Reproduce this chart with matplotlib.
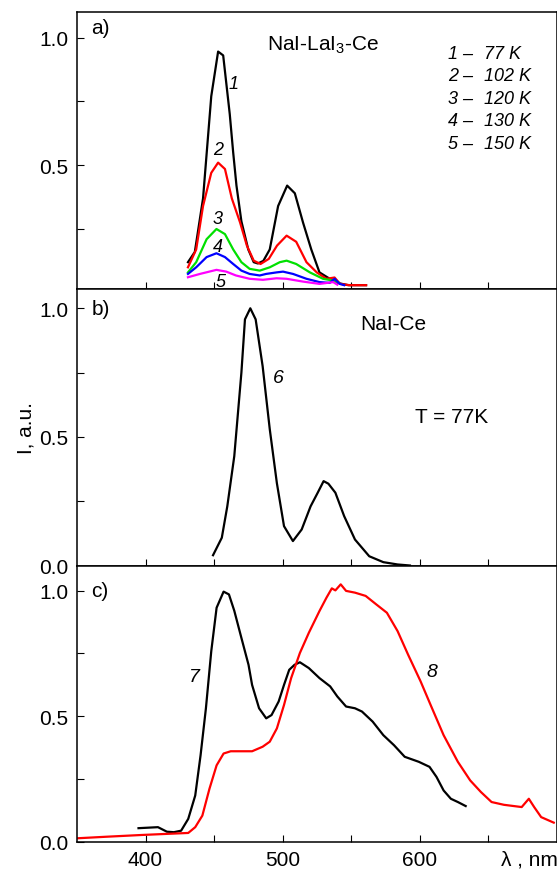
import matplotlib
matplotlib.use("Agg")
import matplotlib.pyplot as plt
import matplotlib.transforms as mtransforms

plt.rcParams.update({
    "font.family": ["Liberation Sans", "DejaVu Sans"],
    "font.size": 15,
    "mathtext.fontset": "custom",
    "mathtext.rm": "Liberation Sans",
    "axes.linewidth": 1.1,
    "xtick.direction": "in",
    "ytick.direction": "in",
    "xtick.major.size": 5,
    "ytick.major.size": 5,
})

# ---- panel a) NaI-LaI3-Ce, 77..150 K
wl_1 = [431, 436, 442, 448, 453, 456.7, 461.5, 464, 466.4, 470, 475, 479, 482,
        486, 490.7, 496.8, 503.4, 509, 515, 521, 527, 533, 539, 548, 561]
I_1 = [0.12, 0.16, 0.37, 0.77, 0.945, 0.93, 0.70, 0.55, 0.42, 0.28, 0.17, 0.12,
       0.115, 0.125, 0.17, 0.34, 0.42, 0.39, 0.275, 0.17, 0.08, 0.06, 0.04, 0.03, 0.03]

wl_2 = [431, 437, 442, 448, 453, 458, 463, 469, 474, 479, 484, 490, 496, 503,
        510, 517.5, 525, 532, 538, 542, 549, 561]
I_2 = [0.10, 0.17, 0.34, 0.47, 0.51, 0.485, 0.37, 0.276, 0.185, 0.126, 0.113,
       0.133, 0.185, 0.224, 0.20, 0.12, 0.08, 0.055, 0.06, 0.035, 0.03, 0.03]

wl_3 = [431, 437, 444.6, 451.8, 458, 464, 470, 476, 483.4, 490.7, 498, 503, 510,
        520, 529.6, 537, 541]
I_3 = [0.08, 0.12, 0.21, 0.25, 0.23, 0.17, 0.12, 0.094, 0.087, 0.10, 0.12, 0.126,
       0.113, 0.08, 0.055, 0.048, 0.04]

wl_4 = [431, 437, 444.6, 451.8, 458, 464, 470, 476, 483.4, 488, 495.6, 500.4,
        507.7, 517.5, 527, 534.5, 538, 541.8, 545]
I_4 = [0.074, 0.10, 0.14, 0.155, 0.14, 0.113, 0.087, 0.074, 0.068, 0.074, 0.08,
       0.083, 0.074, 0.055, 0.042, 0.039, 0.055, 0.035, 0.03]

wl_5 = [431, 439.7, 451.8, 459, 466, 476, 485.7, 495.6, 503, 515, 527, 537, 540]
I_5 = [0.061, 0.074, 0.09, 0.083, 0.068, 0.055, 0.051, 0.057, 0.055, 0.044,
       0.035, 0.042, 0.032]

temps_a = ["77 K", "102 K", "120 K", "130 K", "150 K"]
colors_a = ["black", "#ff0000", "#00e000", "#0000ff", "#ff00ff"]

# ---- panel b) NaI-Ce, 77 K
wl_6 = [449.3, 455.7, 459.7, 464.8, 470, 472.6, 476.5, 480.4, 485.5, 490.7, 495.9,
        501.1, 507.6, 514, 520.5, 525.7, 530, 533.5, 538.6, 545, 552.9, 563.3,
        573.6, 584, 593]
I_6 = [0.04, 0.108, 0.23, 0.425, 0.75, 0.957, 1.0, 0.957, 0.775, 0.53, 0.32,
       0.153, 0.095, 0.14, 0.23, 0.283, 0.328, 0.318, 0.283, 0.192, 0.101, 0.036,
       0.013, 0.004, 0.0]

# ---- panel c)
wl_7 = [394.9, 409.1, 415.6, 420.7, 426, 431.2, 436.3, 440.2, 444.1, 448, 451.9,
        457, 460.9, 464.8, 470, 475.2, 477.8, 482.9, 488.1, 492, 497.2, 501.1,
        504.9, 508.8, 512.7, 519.2, 527, 534.8, 540, 546.4, 552.9, 558, 565.8,
        573.6, 581.4, 589.2, 599.5, 607.3, 612.4, 617.6, 622.9, 628, 633.7]
I_7 = [0.055, 0.059, 0.041, 0.039, 0.045, 0.092, 0.185, 0.345, 0.532, 0.759,
       0.932, 0.996, 0.985, 0.92, 0.812, 0.705, 0.625, 0.532, 0.492, 0.505, 0.559,
       0.625, 0.685, 0.705, 0.715, 0.692, 0.652, 0.619, 0.579, 0.539, 0.532, 0.519,
       0.479, 0.425, 0.385, 0.339, 0.319, 0.299, 0.259, 0.205, 0.172, 0.159, 0.143]

wl_8 = [350.9, 371.6, 397.5, 431.2, 436.3, 441.5, 446.7, 451.9, 457, 462.2, 470,
        477.8, 485.5, 490.7, 495.9, 501.1, 506.3, 512.7, 519.2, 527, 532.1, 536,
        538.6, 542.5, 546.4, 552.9, 560.7, 568.5, 576.2, 584, 591.7, 600.8, 608.6,
        617.6, 628, 637, 644.8, 652.6, 661.6, 674.6, 679.8, 683.7, 688.8, 698]
I_8 = [0.015, 0.021, 0.028, 0.036, 0.059, 0.105, 0.212, 0.305, 0.352, 0.361,
       0.361, 0.361, 0.379, 0.399, 0.452, 0.545, 0.652, 0.752, 0.832, 0.919, 0.972,
       1.009, 1.001, 1.025, 0.999, 0.992, 0.979, 0.945, 0.912, 0.839, 0.745, 0.639,
       0.539, 0.425, 0.319, 0.245, 0.199, 0.159, 0.148, 0.139, 0.172, 0.139, 0.099,
       0.077]

x_ticks = [400, 450, 500, 550, 600, 650]
x_ticklabels = ["400", "", "500", "", "600", ""]
y_ticks = [0.0, 0.25, 0.5, 0.75, 1.0]
y_ticklabels = ["0.0", "", "0.5", "", "1.0"]

# layout in pixels of a 557x870 picture
W, H = 557, 870
fig = plt.figure(figsize=(W / 100, H / 100), dpi=100, facecolor="white")


def box(top, bottom):
    return [77 / W, (H - bottom) / H, 479.5 / W, (bottom - top) / H]


ax_a = fig.add_axes(box(13, 290))
ax_b = fig.add_axes(box(290, 566.5))
ax_c = fig.add_axes(box(566.5, 843))

for ax in (ax_a, ax_b, ax_c):
    ax.set_xlim(350, 700)
    ax.set_xticks(x_ticks)
    ax.set_yticks(y_ticks)
    ax.set_yticklabels(y_ticklabels)
    ax.tick_params(axis="y", pad=6, labelsize=15)
    ax.tick_params(axis="x", pad=6, labelsize=15)
for ax in (ax_a, ax_b):
    ax.set_xticklabels([])
ax_c.set_xticklabels(x_ticklabels)

ax_a.set_ylim(0.015, 1.1)
ax_b.set_ylim(0.0, 1.075)
ax_c.set_ylim(0.0, 1.1)

lw = 1.6
# a)
for wl, I, col in zip([wl_1, wl_2, wl_3, wl_4, wl_5], [I_1, I_2, I_3, I_4, I_5], colors_a):
    ax_a.plot(wl, I, color=col, lw=lw)

ax_a.text(0.03, 0.945, "a)", transform=ax_a.transAxes, ha="left", va="center")
ax_a.text(0.397, 0.885, r"NaI-LaI$_{\mathregular{3}}$-Ce", transform=ax_a.transAxes,
          ha="left", va="center")
curve_lbl_x = [464, 453, 452.5, 452.5, 455]
curve_lbl_y = [0.82, 0.56, 0.29, 0.18, 0.045]
for i, (x, y) in enumerate(zip(curve_lbl_x, curve_lbl_y)):
    ax_a.text(x, y, str(i + 1), ha="center", va="center", style="italic", fontsize=13)
for i, t in enumerate(temps_a):
    yy = 0.85 - i * 0.081
    ax_a.text(0.773, yy, f"{i + 1} \u2013", transform=ax_a.transAxes,
              ha="left", va="center", style="italic", fontsize=13)
    ax_a.text(0.848, yy, t, transform=ax_a.transAxes,
              ha="left", va="center", style="italic", fontsize=13)

# b)
ax_b.plot(wl_6, I_6, color="black", lw=lw)
ax_b.text(0.03, 0.93, "b)", transform=ax_b.transAxes, ha="left", va="center")
ax_b.text(0.59, 0.875, "NaI-Ce", transform=ax_b.transAxes, ha="left", va="center")
ax_b.text(0.705, 0.54, "T = 77K", transform=ax_b.transAxes, ha="left", va="center")
ax_b.text(497, 0.73, "6", ha="center", va="center", style="italic", fontsize=14)
ax_b.set_ylabel("I, a.u.", fontsize=15, labelpad=3)

# c)
ax_c.plot(wl_7, I_7, color="black", lw=lw)
ax_c.plot(wl_8, I_8, color="#ff0000", lw=lw)
ax_c.text(0.03, 0.91, "c)", transform=ax_c.transAxes, ha="left", va="center")
ax_c.text(436, 0.66, "7", ha="center", va="center", style="italic", fontsize=14)
ax_c.text(609, 0.68, "8", ha="center", va="center", style="italic", fontsize=14)
trans = mtransforms.blended_transform_factory(ax_c.transData, ax_c.transAxes)
ax_c.text(680, -0.062, "\u03bb , nm", transform=trans, ha="center", va="center",
          fontsize=15)

fig.savefig("out.png", dpi=100, facecolor="white")
